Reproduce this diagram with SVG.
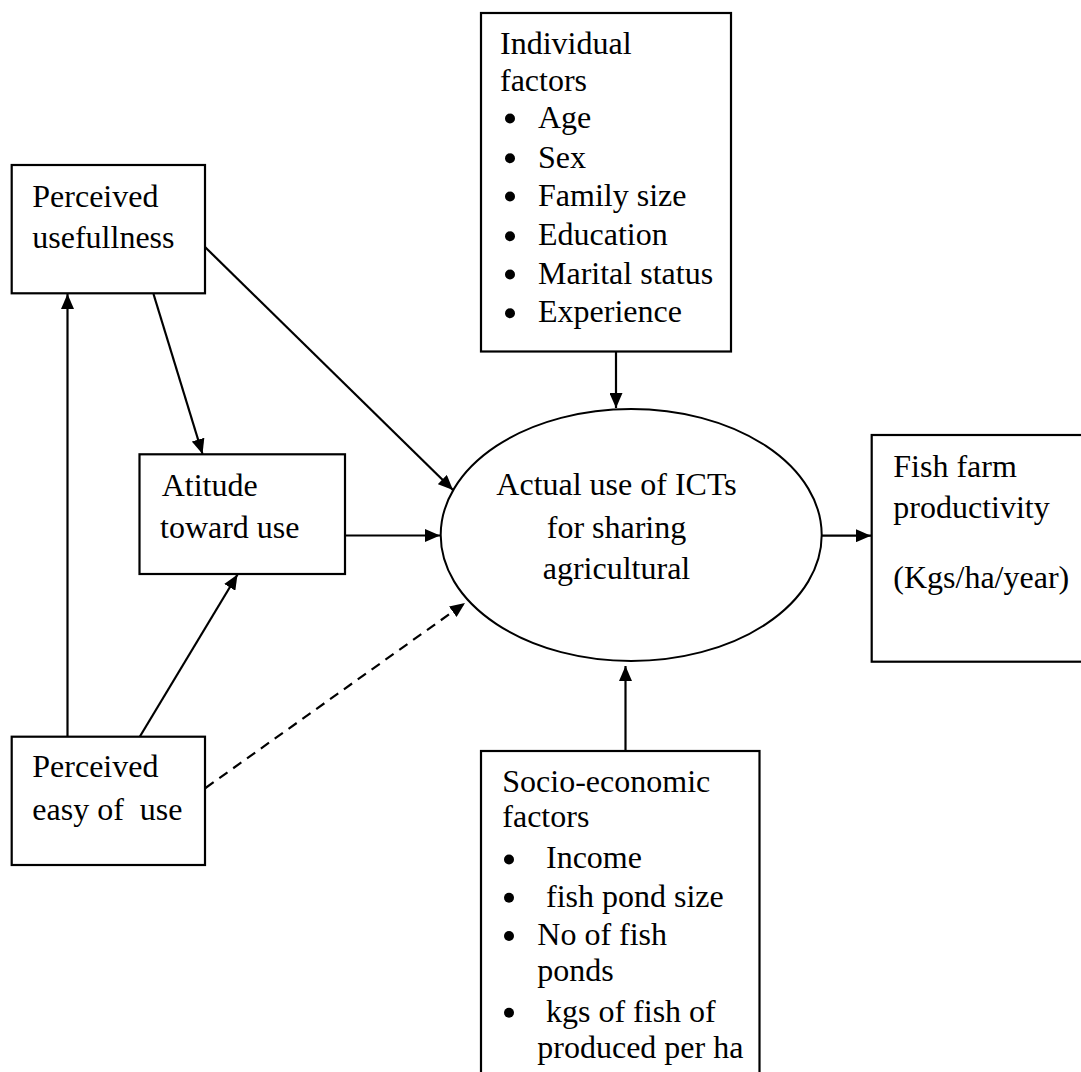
<svg xmlns="http://www.w3.org/2000/svg" width="1081" height="1072" viewBox="0 0 1081 1072">
<style>
  .box { fill: #ffffff; stroke: #000000; stroke-width: 2.2; }
  .t { font-family: "Liberation Serif", "Times New Roman", serif; font-size: 32px; fill: #000000; }
  .mid { text-anchor: middle; }
  .conn { stroke: #000000; stroke-width: 2.2; fill: none; marker-end: url(#arrow); }
  .dash { stroke-dasharray: 10 7; }
</style>
<defs>
  <marker id="arrow" markerUnits="userSpaceOnUse" markerWidth="15" markerHeight="13" refX="15" refY="6.5" orient="auto">
    <path d="M0,0 L15,6.5 L0,13 z" fill="#000000"/>
  </marker>
</defs>
<rect width="1081" height="1072" fill="#ffffff"/>

<g id="connectors">
  <line class="conn" x1="67.5" y1="737" x2="67.5" y2="294"/>
  <line class="conn" x1="153.5" y1="294" x2="202.5" y2="454"/>
  <line class="conn" x1="205" y1="247" x2="453" y2="490"/>
  <line class="conn" x1="139.6" y1="737" x2="237.5" y2="574.5"/>
  <line class="conn" x1="345" y1="535.5" x2="440" y2="535.5"/>
  <line class="conn dash" x1="205.5" y1="788" x2="465" y2="603"/>
  <line class="conn" x1="616" y1="352" x2="616" y2="408"/>
  <line class="conn" x1="625.5" y1="751" x2="625.5" y2="666"/>
  <line class="conn" x1="822" y1="535.7" x2="871" y2="535.7"/>
</g>

<g id="perceived-usefulness">
  <rect class="box" x="11.7" y="165" width="193.3" height="128.3"/>
  <text class="t" x="32.3" y="206.7">Perceived</text>
  <text class="t" x="32.3" y="248.3">usefullness</text>
</g>

<g id="attitude">
  <rect class="box" x="139.5" y="454.3" width="205.5" height="119.7"/>
  <text class="t" x="161.7" y="496">Atitude</text>
  <text class="t" x="160" y="538.3">toward use</text>
</g>

<g id="perceived-ease">
  <rect class="box" x="11.7" y="736.7" width="193.3" height="128.3"/>
  <text class="t" x="32.3" y="777.3">Perceived</text>
  <text class="t" x="32.3" y="820" xml:space="preserve">easy of  use</text>
</g>

<g id="actual-use">
  <ellipse cx="631.2" cy="535" rx="190.5" ry="126" fill="#ffffff" stroke="#000000" stroke-width="2"/>
  <text class="t mid" x="616.5" y="495">Actual use of ICTs</text>
  <text class="t mid" x="616.5" y="537.7">for sharing</text>
  <text class="t mid" x="616.5" y="579.3">agricultural</text>
</g>

<g id="individual-factors">
  <rect class="box" x="481" y="13" width="250" height="338.5"/>
  <text class="t" x="500" y="53.5">Individual</text>
  <text class="t" x="500" y="90.5">factors</text>
  <g>
    <circle cx="510" cy="118.5" r="5"/>
    <circle cx="510" cy="158.3" r="5"/>
    <circle cx="510" cy="196.5" r="5"/>
    <circle cx="510" cy="236.3" r="5"/>
    <circle cx="510" cy="274.5" r="5"/>
    <circle cx="510" cy="313.3" r="5"/>
  </g>
  <text class="t" x="538" y="127.7">Age</text>
  <text class="t" x="538" y="167.5">Sex</text>
  <text class="t" x="538" y="205.6">Family size</text>
  <text class="t" x="538" y="245.4">Education</text>
  <text class="t" x="538" y="283.6">Marital status</text>
  <text class="t" x="538" y="322.4">Experience</text>
</g>

<g id="fish-farm-productivity">
  <rect class="box" x="871.7" y="435" width="220" height="226.7"/>
  <text class="t" x="893.3" y="476.7">Fish farm</text>
  <text class="t" x="893.3" y="518.3">productivity</text>
  <text class="t" x="893.3" y="588.3">(Kgs/ha/year)</text>
</g>

<g id="socio-economic-factors">
  <rect class="box" x="481" y="751" width="278.5" height="340"/>
  <text class="t" x="502.3" y="791.7">Socio-economic</text>
  <text class="t" x="502.3" y="826.7">factors</text>
  <g>
    <circle cx="509" cy="859.5" r="5"/>
    <circle cx="509" cy="897.7" r="5"/>
    <circle cx="509" cy="936" r="5"/>
    <circle cx="509" cy="1012.7" r="5"/>
  </g>
  <text class="t" x="546" y="868.3">Income</text>
  <text class="t" x="546" y="906.7">fish pond size</text>
  <text class="t" x="537.3" y="945">No of fish</text>
  <text class="t" x="537.3" y="980.5">ponds</text>
  <text class="t" x="546" y="1021.7">kgs of fish of</text>
  <text class="t" x="537.3" y="1058.3">produced per ha</text>
</g>
</svg>
